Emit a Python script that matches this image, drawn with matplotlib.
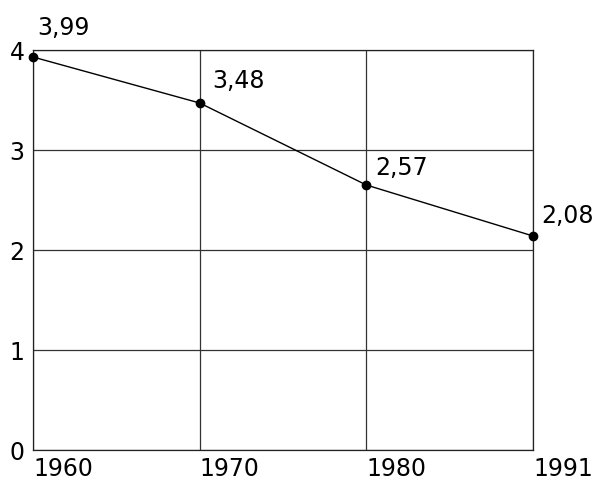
import matplotlib
matplotlib.use("Agg")
import matplotlib.pyplot as plt

years = ["1960", "1970", "1980", "1991"]
values = [3.93, 3.47, 2.65, 2.14]
labels = ["3,99", "3,48", "2,57", "2,08"]
y_ticks = [0, 1, 2, 3, 4]

label_offsets = [(4, 17), (13, 10), (9, 5), (8, 8)]  # pixels

fig = plt.figure(figsize=(6.04, 4.80), dpi=100)
ax = fig.add_axes([33/604, 30/480, 500/604, 400/480])
x = list(range(len(years)))

ax.set_xlim(0, len(years) - 1)
ax.set_ylim(0, 4)
ax.set_xticks(x)
ax.set_xticklabels(years, ha="left")
ax.set_yticks(y_ticks)
ax.set_yticklabels([str(t) for t in y_ticks])
ax.tick_params(length=0, labelsize=17, pad=6)
ax.tick_params(axis="x", pad=5)
ax.grid(True, color="#333333", linewidth=0.9)
for s in ax.spines.values():
    s.set_color("#222222")
    s.set_linewidth(0.9)

ax.plot(x, values, color="black", linewidth=1.0, marker="o", markersize=6,
        clip_on=False, zorder=5)
for xi, v, lab, off in zip(x, values, labels, label_offsets):
    ax.annotate(lab, (xi, v), xytext=(off[0] * 0.72, off[1] * 0.72),
                textcoords="offset points", ha="left", va="bottom",
                fontsize=17, annotation_clip=False)

fig.savefig("out.png", dpi=100)
